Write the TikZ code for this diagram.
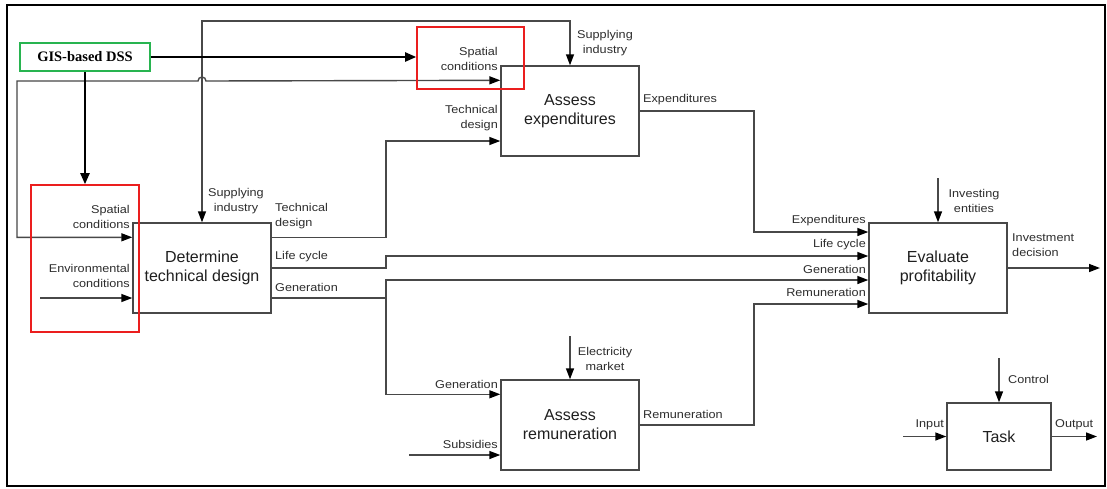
\documentclass[tikz,border=0pt]{standalone}
\usepackage{fontspec}
\setmainfont{Liberation Sans}
\newfontfamily\labfont[FakeStretch=1.12]{Liberation Sans}
\newfontfamily\gisfont{Liberation Serif}
\usetikzlibrary{arrows.meta,calc}
\definecolor{ln}{RGB}{72,72,72}
\definecolor{tx}{RGB}{45,45,45}
\definecolor{gisgreen}{RGB}{40,180,80}
\definecolor{redbox}{RGB}{235,30,30}
\begin{document}
\begin{tikzpicture}[x=1pt,y=-1pt,
  box/.style={draw=ln, line width=1.4pt, fill=white, minimum width=138pt, minimum height=90pt,
    inner sep=0pt, align=center, font=\fontsize{16}{19}\selectfont, text=black!88},
  lab/.style={font=\labfont\fontsize{11.3}{15}\selectfont, text=tx, inner sep=0pt},
  conn/.style={draw=ln, line width=1.4pt},
  tip/.tip={Triangle[length=11pt,width=8pt,color=black]},
  arr/.style={conn, -tip},
  darr/.style={conn, tip-tip},
  thickarr/.style={draw=black, line width=2.2pt, -{Triangle[length=11pt,width=9pt]}},
  hl/.style={draw=redbox, line width=1.6pt, inner sep=0pt}
]
\useasboundingbox (0,0) rectangle (1107,488);
\fill[white] (0,0) rectangle (1107,488);
\draw[black, line width=2.5pt] (7,5) rectangle (1105,486);

% boxes
\node[box] (det) at (202,268) {Determine\\technical design};
\node[box] (exp) at (570,111) {Assess\\expenditures};
\node[box] (rem) at (570,425) {Assess\\remuneration};
\node[box] (eva) at (938,268) {Evaluate\\profitability};
\node[box, minimum width=104pt, minimum height=67pt] (task) at (999,436.5) {Task};
\node[draw=gisgreen, line width=1.6pt, minimum width=130pt, minimum height=28pt, inner sep=0pt,
  font=\gisfont\bfseries\fontsize{14.5}{16}\selectfont] (gis) at (85,57) {GIS-based DSS};

% named free ends
\coordinate (siR) at (570,21);
\coordinate (scL) at (17,81);
\coordinate (hopL) at (198,81);
\coordinate (bus) at (386,0);
\coordinate (gj) at (386,298);
\coordinate (exR) at (754,111);
\coordinate (reR) at (754,425);
\coordinate (ie) at (938,178);
\coordinate (idc) at (1100,268);
\coordinate (em) at (570,336);
\coordinate (sub) at (409,455);
\coordinate (env) at (40,298);
\coordinate (ctl) at (999,358);
\coordinate (inp) at (903,436.5);
\coordinate (outp) at (1097,436.5);
\coordinate (tdo) at ([yshift=-15pt]det.north east);

% supplying industry
\draw[darr] (det.north) |- (siR) -- (exp.north);
% spatial conditions
\draw[darr] ([yshift=-15pt]det.north west) -| (scL) -- (hopL) arc[start angle=180, end angle=360, radius=4] -- ([yshift=-15pt]exp.north west);
% technical design
\draw[arr] (tdo) -- (bus |- tdo) |- ([yshift=-30pt]exp.west);
% life cycle
\draw[arr] (det.east) -- (bus |- det.east) |- ([yshift=12pt]eva.west);
% generation
\draw[conn] ([yshift=-30pt]det.east) -- (gj);
\draw[arr] (gj) |- ([yshift=-12pt]eva.west);
\draw[arr] (gj) |- ([yshift=-15pt]rem.north west);
% expenditures / remuneration
\draw[arr] (exp.east) -- (exR) |- ([yshift=36pt]eva.west);
\draw[arr] (rem.east) -- (reR) |- ([yshift=-36pt]eva.west);
% others
\draw[arr] (ie) -- (eva.north);
\draw[arr] (eva.east) -- (idc);
\draw[arr] (em) -- (rem.north);
\draw[arr] (sub) -- ([yshift=-30pt]rem.west);
\draw[arr] (env) -- ([yshift=-30pt]det.west);
\draw[arr] (ctl) -- (task.north);
\draw[arr] (inp) -- (task.west);
\draw[arr] (task.east) -- (outp);

% red highlight boxes
\node[hl, minimum width=108pt, minimum height=147pt] (red1) at (85,258.5) {};
\node[hl, minimum width=107pt, minimum height=62pt] (red2) at (470.5,58) {};

% GIS arrows
\draw[thickarr] (gis.east) -- (red2.west |- gis.east);
\draw[thickarr] (gis.south) -- (red1.north);

% labels
\node[lab, align=center] (l1) at (236,201) {Supplying\\industry};
\node[lab, align=right, anchor=east] (l2) at (130,216.5) {Spatial\\conditions};
\node[lab, align=left, anchor=west] (l3) at (275,216.5) {Technical\\design};
\node[lab, align=right, anchor=east] (l4) at (130,276) {Environmental\\conditions};
\node[lab, anchor=west] (l5) at (275,257) {Life cycle};
\node[lab, anchor=west] (l6) at (275,287) {Generation};
\node[lab, align=right, anchor=east] (l7) at (498,58.5) {Spatial\\conditions};
\node[lab, align=center] (l8) at (605,43.5) {Supplying\\industry};
\node[lab, align=right, anchor=east] (l9) at (498,118.5) {Technical\\design};
\node[lab, anchor=west] (l10) at (643,100) {Expenditures};
\node[lab, anchor=east] (l11) at (866,221) {Expenditures};
\node[lab, anchor=east] (l12) at (866,245) {Life cycle};
\node[lab, anchor=east] (l13) at (866,269) {Generation};
\node[lab, anchor=east] (l14) at (866,292) {Remuneration};
\node[lab, align=center] (l15) at (974,200.5) {Investing\\entities};
\node[lab, align=left, anchor=west] (l16) at (1012,245.5) {Investment\\decision};
\node[lab, align=center] (l17) at (605,358.5) {Electricity\\market};
\node[lab, anchor=east] (l18) at (498,384) {Generation};
\node[lab, anchor=east] (l19) at (498,444) {Subsidies};
\node[lab, anchor=west] (l20) at (643,414) {Remuneration};
\node[lab, anchor=west] (l21) at (1008,379) {Control};
\node[lab, anchor=east] (l22) at (944,425) {Input};
\node[lab, anchor=west] (l23) at (1055,425) {Output};
\end{tikzpicture}
\end{document}
